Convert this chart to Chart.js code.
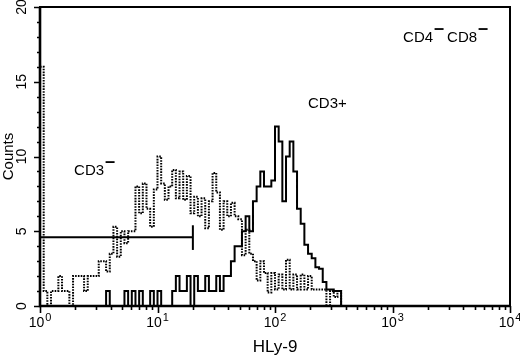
<!DOCTYPE html>
<html>
<head>
<meta charset="utf-8">
<script src="https://cdn.jsdelivr.net/npm/chart.js@4.4.1/dist/chart.umd.min.js"></script>
<style>
  body { margin: 0; background: #fff; }
  #wrap { width: 520px; height: 364px; }
</style>
</head>
<body>
<div id="wrap"><canvas id="histChart" width="520" height="364"></canvas></div>
<script>
const channelsPerDecade = 32 // channel i covers 10^(i/32) .. 10^((i+1)/32)

// CD3+ cells (solid line), counts per channel
const cd3PosCounts = [
  0, 0, 0, 0, 0, 0, 0, 0, 0, 0,
  0, 0, 0, 0, 0, 0, 0, 0, 1, 0,
  0, 0, 0, 1, 0, 1, 0, 1, 0, 0,
  1, 0, 1, 0, 0, 0, 1, 2, 1, 1,
  2, 0, 2, 1, 1, 2, 1, 1, 2, 1,
  2, 2, 3, 4, 4, 5, 6, 5, 7, 8,
  9, 8, 8, 8.4, 12, 11, 7, 10, 11, 9,
  6.5, 5.5, 4.1, 3.5, 3.2, 2.6, 2.5, 1.6, 1.1, 1.1,
  1, 1, 0
]

// CD3- cells (dotted line), counts per channel
const cd3NegCounts = [
  16, 1, 0, 1, 1, 2, 1, 1, 0, 2,
  2, 2, 1, 2, 2, 2, 3, 3, 2.3, 3.5,
  5.3, 3.3, 5, 4.2, 5, 5, 8, 6.2, 8.2, 6.5,
  5.3, 7.8, 10, 8.2, 7.1, 8, 9.1, 7.2, 9, 7.1,
  8.7, 6.2, 7.3, 6, 7.2, 5.2, 7, 8.9, 7.6, 5.1,
  7, 6, 6.9, 6, 5.8, 3.4, 5.1, 3.5, 3, 1.7,
  3, 2.2, 0.9, 2.2, 1.1, 2.1, 1.1, 3.1, 1.1, 2.1,
  1.1, 2.1, 1.1, 2, 1.1, 1.1, 1.1, 1.1, 0, 1,
  0.6, 1, 0
]

// marker bar
const gateRange = [1, 20]
const gateLevel = 4.6
const gateCap = [3.75, 5.4]

const xDecades = [0, 1, 2, 3, 4]
const yLabelStep = 5

// text labels: [text, minus-bar after it]
const annotations = [
  { parts: [['CD3', true]], x: 1.95, y: 8.75 },
  { parts: [['CD3+', false]], x: 191, y: 13.25 },
  { parts: [['CD4', true], ['CD8', true]], x: 1230, y: 17.65 }
]

const fontFamily = '"Liberation Sans", Arial, Helvetica, sans-serif'

function toSteps(counts) {
  const pts = counts.map((c, i) => ({ x: Math.pow(10, i / channelsPerDecade), y: c }))
  pts.push({ x: Math.pow(10, counts.length / channelsPerDecade), y: 0 })
  return pts
}

const framePlugin = {
  id: 'frame',
  afterDraw(chart) {
    const { ctx, chartArea: a, scales: { x, y } } = chart
    ctx.save()
    ctx.strokeStyle = '#000'
    ctx.lineWidth = 2
    ctx.strokeRect(a.left, a.top, a.right - a.left, a.bottom - a.top)
    // heavier axes on left and bottom
    ctx.lineWidth = 2.6
    ctx.beginPath()
    ctx.moveTo(a.left, a.top)
    ctx.lineTo(a.left, a.bottom)
    ctx.lineTo(a.right, a.bottom)
    ctx.stroke()

    // tick marks
    ctx.lineWidth = 1.6
    ctx.beginPath()
    y.ticks.forEach(t => {
      const py = Math.round(y.getPixelForValue(t.value)) + 0.5
      const len = t.value % yLabelStep === 0 ? 6 : 3
      ctx.moveTo(a.left - len, py)
      ctx.lineTo(a.left, py)
    })
    x.ticks.forEach(t => {
      const px = Math.round(x.getPixelForValue(t.value)) + 0.5
      const isMajor = Math.abs(Math.log10(t.value) % 1) < 1e-9
      const len = isMajor ? 7 : 4
      ctx.moveTo(px, a.bottom)
      ctx.lineTo(px, a.bottom + len)
    })
    ctx.stroke()

    // x labels 10^n
    ctx.fillStyle = '#000'
    ctx.textBaseline = 'alphabetic'
    ctx.textAlign = 'left'
    xDecades.forEach(e => {
      const px = x.getPixelForValue(Math.pow(10, e))
      ctx.font = '14px ' + fontFamily
      const wBase = ctx.measureText('10').width
      ctx.font = '11px ' + fontFamily
      const wExp = ctx.measureText(String(e)).width
      const start = px - (wBase + wExp + 1) / 2
      ctx.font = '14px ' + fontFamily
      ctx.fillText('10', start, a.bottom + 21)
      ctx.font = '11px ' + fontFamily
      ctx.fillText(String(e), start + wBase + 1, a.bottom + 15)
    })

    // annotations
    ctx.font = '15px ' + fontFamily
    annotations.forEach(an => {
      let cx = x.getPixelForValue(an.x)
      const by = y.getPixelForValue(an.y)
      an.parts.forEach(([txt, bar]) => {
        ctx.fillText(txt, cx, by)
        cx += ctx.measureText(txt).width
        if (bar) {
          ctx.fillRect(cx + 1.5, by - 14, 9, 1.8)
          cx += 14
        }
      })
    })
    ctx.restore()
  }
}

const ctx = document.getElementById('histChart').getContext('2d')

const histChart = new Chart(ctx, {
  type: 'scatter',
  data: {
    datasets: [
      {
        label: 'CD3-',
        data: toSteps(cd3NegCounts),
        showLine: true,
        stepped: 'before',
        borderColor: '#000',
        borderWidth: 2,
        borderDash: [1.6, 1.2],
        pointRadius: 0
      },
      {
        label: 'CD3+',
        data: toSteps(cd3PosCounts),
        showLine: true,
        stepped: 'before',
        borderColor: '#000',
        borderWidth: 2,
        pointRadius: 0
      },
      {
        label: 'gate',
        data: gateRange.map(v => ({ x: v, y: gateLevel })),
        showLine: true,
        borderColor: '#000',
        borderWidth: 2,
        pointRadius: 0
      },
      {
        label: 'gate end',
        data: gateCap.map(v => ({ x: gateRange[1], y: v })),
        showLine: true,
        borderColor: '#000',
        borderWidth: 2,
        pointRadius: 0
      }
    ]
  },
  options: {
    responsive: false,
    animation: false,
    layout: { padding: { top: 7, right: 10, left: 0, bottom: 0 } },
    plugins: {
      legend: { display: false },
      tooltip: { enabled: false }
    },
    scales: {
      x: {
        type: 'logarithmic',
        min: 1,
        max: 10000,
        grid: { display: false, drawTicks: false },
        border: { display: false },
        ticks: { display: false, autoSkip: false },
        afterBuildTicks: s => {
          const t = []
          for (let e = 0; e < 4; e++) {
            for (let m = 1; m < 10; m++) t.push({ value: m * Math.pow(10, e) })
          }
          t.push({ value: 10000 })
          s.ticks = t
        },
        afterFit: s => { s.height = 58; s.paddingLeft = 0; s.paddingRight = 0 },
        title: {
          display: true,
          text: 'HLy-9',
          color: '#000',
          font: { family: fontFamily, size: 17 },
          padding: { top: 0, bottom: 6 }
        }
      },
      y: {
        min: 0,
        max: 20,
        grid: { display: false, drawTicks: false },
        border: { display: false },
        ticks: {
          stepSize: 1,
          autoSkip: false,
          minRotation: 90,
          maxRotation: 90,
          crossAlign: 'center',
          padding: 10,
          color: '#000',
          font: { family: fontFamily, size: 14 },
          callback: v => (v % yLabelStep === 0 ? String(v) : '')
        },
        afterFit: s => { s.width = 40; s.paddingTop = 0; s.paddingBottom = 0 },
        title: {
          display: true,
          text: 'Counts',
          color: '#000',
          font: { family: fontFamily, size: 15 },
          padding: { top: 0, bottom: 0 }
        }
      }
    }
  },
  plugins: [framePlugin]
})
</script>
</body>
</html>
